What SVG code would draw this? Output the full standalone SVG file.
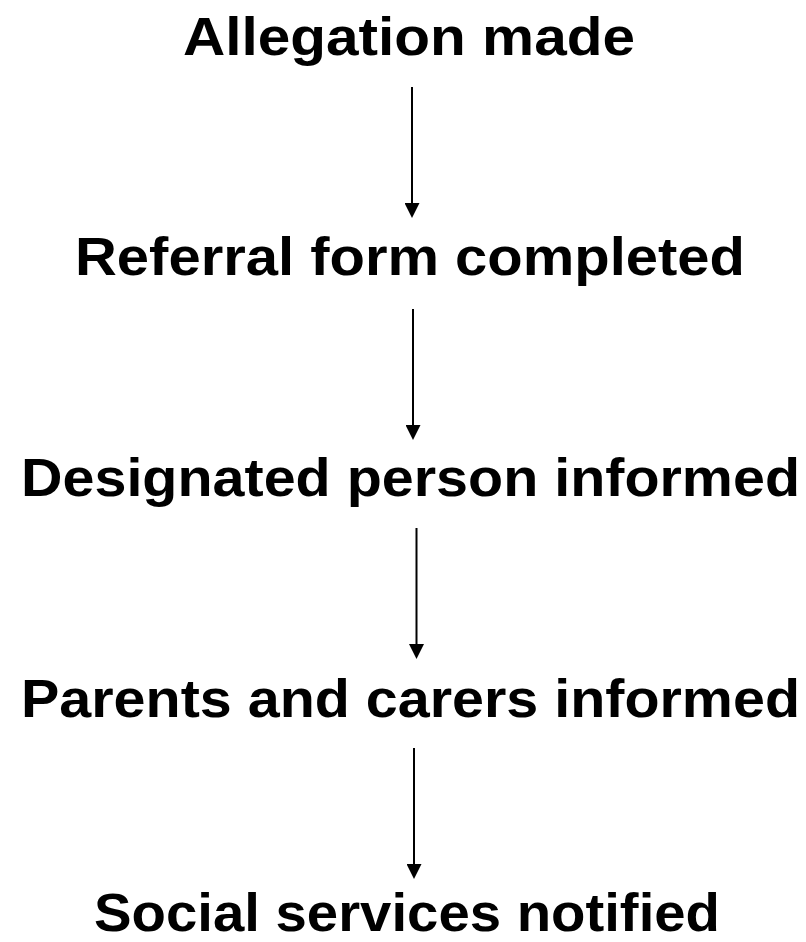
<svg xmlns="http://www.w3.org/2000/svg" width="806" height="942" viewBox="0 0 806 942">
  <style>
    .step { font-family: "Liberation Sans", Arial, sans-serif; font-weight: bold; font-size: 53px; fill: #000; }
    .flow { stroke: #000; stroke-width: 2; fill: none; }
  </style>
  <defs>
    <marker id="head" viewBox="0 0 15 15" markerUnits="userSpaceOnUse" markerWidth="15" markerHeight="15" refX="7" refY="7.5" orient="auto">
      <path d="M0,0 L15,7.5 L0,15 z" fill="#000"/>
    </marker>
  </defs>
  <rect width="806" height="942" fill="#fff"/>

  <g id="allegation-made">
    <text class="step" x="183" y="55" textLength="452" lengthAdjust="spacingAndGlyphs">Allegation made</text>
  </g>
  <g id="referral-form-completed">
    <text class="step" x="75" y="275" textLength="670" lengthAdjust="spacingAndGlyphs">Referral form completed</text>
  </g>
  <g id="designated-person-informed">
    <text class="step" x="21" y="496" textLength="779" lengthAdjust="spacingAndGlyphs">Designated person informed</text>
  </g>
  <g id="parents-carers-informed">
    <text class="step" x="21" y="717" textLength="779" lengthAdjust="spacingAndGlyphs">Parents and carers informed</text>
  </g>
  <g id="social-services-notified">
    <text class="step" x="94" y="931" textLength="626" lengthAdjust="spacingAndGlyphs">Social services notified</text>
  </g>

  <g id="connectors">
    <line class="flow" x1="412" y1="87" x2="412" y2="210" marker-end="url(#head)"/>
    <line class="flow" x1="413" y1="309" x2="413" y2="432" marker-end="url(#head)"/>
    <line class="flow" x1="416.5" y1="528" x2="416.5" y2="651" marker-end="url(#head)"/>
    <line class="flow" x1="414" y1="748" x2="414" y2="871" marker-end="url(#head)"/>
  </g>
</svg>
